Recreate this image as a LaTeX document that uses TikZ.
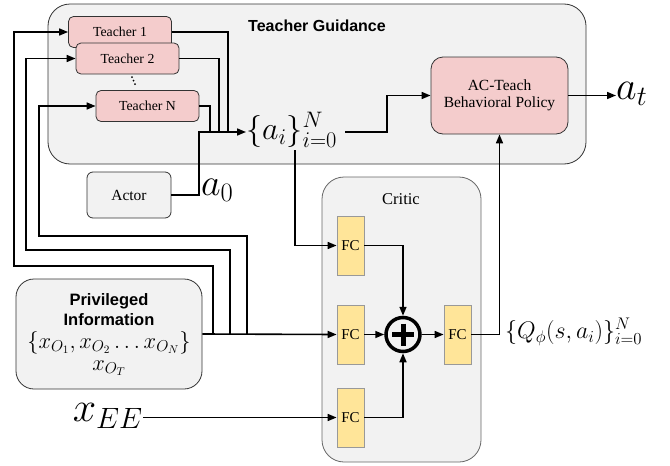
\RequirePackage{fix-cm}
\documentclass[tikz,border=0pt]{standalone}
\usepackage[no-math]{fontspec}
\setmainfont{Liberation Serif}
\setsansfont{Liberation Sans}
\usetikzlibrary{arrows.meta}
\definecolor{pinkf}{HTML}{F4CCCC}
\definecolor{grayf}{HTML}{F2F2F2}
\definecolor{fcf}{HTML}{FFE599}
\definecolor{fcd}{HTML}{999999}
\newcommand{\fs}[1]{\fontsize{#1}{#1}\selectfont}
\begin{document}
\begin{tikzpicture}[x=1pt,y=-1pt,
 line/.style={line width=1.6pt},
 conn/.style={line width=1.6pt,-{Triangle[length=9pt,width=7pt]}},
 teacher/.style={draw=black!80,fill=pinkf,rounded corners=5pt,minimum width=103pt,minimum height=31pt,inner sep=0pt,font=\fs{13.8},line width=0.8pt},
 graybox/.style={draw=black!80,fill=grayf,line width=0.8pt},
 fcbox/.style={draw=fcd,fill=fcf,minimum width=27pt,minimum height=59pt,inner sep=0pt,font=\fs{15},line width=0.8pt},
 lab/.style={inner sep=0pt},
 bsans/.style={inner sep=0pt,anchor=base,font=\sffamily\bfseries\fs{16.5}}]
\useasboundingbox (0,0) rectangle (670,466);
% group boxes
\draw[graybox,rounded corners=22pt] (48,4) rectangle (586,164);
\node[font=\sffamily\bfseries\fs{16}] (tgtitle) at (317,26) {Teacher Guidance};
\draw[graybox,draw=black!60,rounded corners=22pt] (322,177) rectangle (481,462);
\node[font=\fs{16.5}] (crtitle) at (401,199) {Critic};
% teachers
\node[teacher] (t1) at (120,32) {Teacher 1};
\node[teacher] (t2) at (127.5,58.5) {Teacher 2};
\node[teacher] (tN) at (147.5,106) {Teacher N};
\fill (132,77) circle (1pt) (133.5,80.5) circle (1pt) (135,84) circle (1pt);
% other nodes
\node[graybox,rounded corners=6pt,minimum width=84pt,minimum height=46pt,inner sep=0pt,font=\fs{15.5}] (actor) at (129,195) {Actor};
\node[graybox,rounded corners=18pt,minimum width=186pt,minimum height=110pt,inner sep=0pt] (priv) at (109,334) {};
\node[bsans] (pv1) at (109,305) {Privileged};
\node[bsans] (pv2) at (109,325) {Information};
\node[lab,anchor=base,font=\fs{22.5}] (pv3) at (109,348) {$\{x_{O_1},x_{O_2}\ldots x_{O_N}\}$};
\node[lab,anchor=base,font=\fs{22.5}] (pv4) at (109,370) {$x_{O_T}$};
\node[teacher,minimum width=137pt,minimum height=77pt,rounded corners=12pt,align=center,font=\fs{15.5}] (ac) at (499.5,95.5) {AC-Teach\\[1pt]Behavioral Policy};
\node[fcbox] (fc1) at (350.5,245.5) {FC};
\node[fcbox] (fc2) at (350.5,334.5) {FC};
\node[fcbox] (fc3) at (350.5,417.5) {FC};
\node[fcbox] (fco) at (457.5,334.5) {FC};
\node[circle,draw,line width=3.5pt,minimum size=34pt,inner sep=0pt] (plus) at (403,334.5) {};
\draw[line width=5pt] (392,334.5) -- (414,334.5) (403,323.5) -- (403,345.5);
% labels
\node[lab,anchor=west,font=\fs{32}] (ai) at (246,130) {$\{a_i\}_{i=0}^N$};
\node[lab,anchor=west,font=\fs{40}] (at) at (616,94) {$a_t$};
\node[lab,anchor=west,font=\fs{38}] (a0) at (201,190) {$a_0$};
\node[lab,anchor=east,font=\fs{42}] (xee) at (143,416) {$x_{EE}$};
\node[lab,anchor=west,font=\fs{24}] (q) at (505,332) {$\{Q_\phi(s,a_i)\}_{i=0}^N$};
% coordinates
\coordinate (b1) at (213,334);
\coordinate (b2) at (230,334);
\coordinate (b3) at (247,334);
\coordinate (j) at (199,132);
\coordinate (aibot) at (295,150);
\coordinate (airight) at (345,132);
% connectors
\draw[conn] (priv.east) -- (fc2.west);
\draw[conn] (b1) -- (213,266) -- (14,266) |- (t1.west);
\draw[conn] (b2) -- (230,250) -- (26,250) |- (t2.west);
\draw[conn] (b3) -- (247,236) -- (39,236) |- (tN.west);
\draw[line] (t1.east) -| (228,132);
\draw[line] (t2.east) -| (219,132);
\draw[line] (tN.east) -| (210,132);
\draw[conn] (actor.east) -| (j) -- (ai.west |- j);
\draw[conn] (airight) -- (387,132) |- (ac.west);
\draw[conn] (aibot) |- (fc1.west);
\draw[conn] (fc1.east) -| (plus.north);
\draw[conn] (fc3.east) -| (plus.south);
\draw[conn] (fc2.east) -- (plus.west);
\draw[conn] (plus.east) -- (fco.west);
\draw[conn] (fco.east) -| (ac.south);
\draw[conn] (ac.east) -- (at.west |- ac.east);
\draw[conn] (xee.east |- fc3.west) -- (fc3.west);
\end{tikzpicture}
\end{document}
